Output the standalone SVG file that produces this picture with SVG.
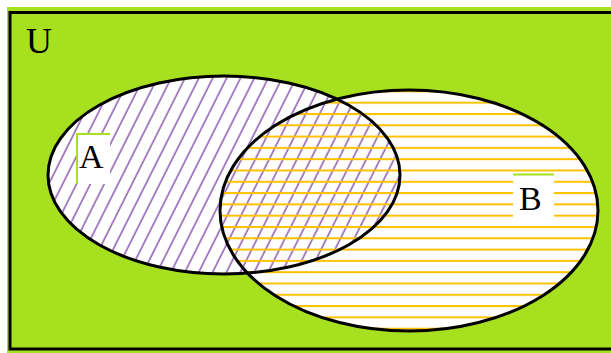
<svg xmlns="http://www.w3.org/2000/svg" width="611" height="353" viewBox="0 0 611 353">
<defs>
<pattern id="diag" patternUnits="userSpaceOnUse" width="12.4" height="20" patternTransform="rotate(26.6)">
<line x1="2" y1="-5" x2="2" y2="25" stroke="#7030a0" stroke-width="1.2"/>
</pattern>
<pattern id="horiz" patternUnits="userSpaceOnUse" width="20" height="11.3" y="0">
<line x1="-5" y1="1" x2="25" y2="1" stroke="#ffc000" stroke-width="2"/>
</pattern>
</defs>
<style>
.lbl{font-family:"Liberation Serif","Times New Roman",serif;fill:#000}
.outline{fill:none;stroke:#000;stroke-width:3}
.gl{stroke:#a6e01e;stroke-width:2;fill:none}
</style>
<rect x="0" y="0" width="611" height="353" fill="#fff"/>
<rect x="7" y="7" width="604" height="346" fill="#a6e01e"/>
<rect x="10" y="12.5" width="620" height="336.5" fill="none" stroke="#000" stroke-width="3"/>
<g id="U"><text class="lbl" x="26" y="53" font-size="36">U</text></g>
<g id="setA">
<ellipse cx="224" cy="175" rx="176" ry="99" fill="#fff"/>
</g>
<g id="setB">
<ellipse cx="409" cy="210.5" rx="189" ry="120.5" fill="#fff"/>
</g>
<ellipse cx="224" cy="175" rx="176" ry="99" fill="url(#diag)"/>
<ellipse cx="409" cy="210.5" rx="189" ry="120.5" fill="url(#horiz)"/>
<ellipse class="outline" cx="224" cy="175" rx="176" ry="99"/>
<ellipse class="outline" cx="409" cy="210.5" rx="189" ry="120.5"/>
<g id="labelA">
<rect x="77" y="134" width="33" height="50" fill="#fff"/>
<path class="gl" d="M77,184 V134 H110"/>
<text class="lbl" x="79" y="168" font-size="34">A</text>
</g>
<g id="labelB">
<rect x="513" y="175" width="41" height="46" fill="#fff"/>
<path class="gl" d="M513,174.5 H554"/>
<text class="lbl" x="519" y="210" font-size="34">B</text>
</g>
</svg>
